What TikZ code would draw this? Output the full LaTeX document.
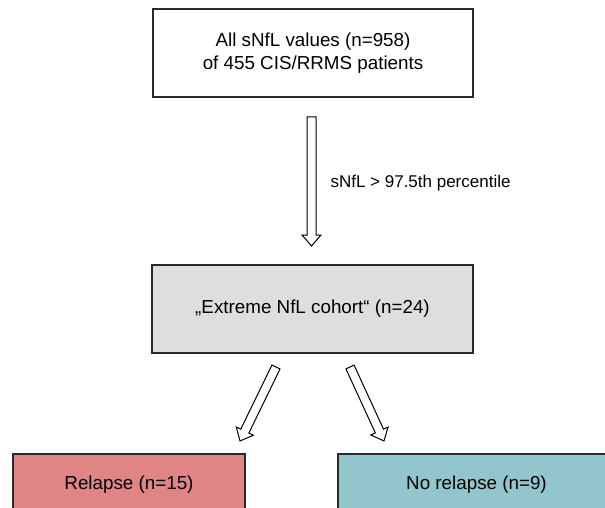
\documentclass[tikz,border=0pt]{standalone}
\usepackage{fontspec}
\setmainfont{Liberation Sans}
\usetikzlibrary{calc}
\definecolor{boxline}{HTML}{2A2A2A}
\definecolor{grayfill}{HTML}{DEDEDE}
\definecolor{redfill}{HTML}{E08585}
\definecolor{tealfill}{HTML}{93C6CC}
\tikzset{
  flowbox/.style={draw=boxline, line width=1.1pt, align=center, inner sep=0pt,
    font=\fontsize{18.8}{22.5}\selectfont},
  arrowline/.style={draw=black, line width=1pt, fill=white, line join=miter},
  lbl/.style={font=\fontsize{17}{20}\selectfont, anchor=west}
}
\newcommand\blockarrow[2]{%
  \coordinate (hb) at ($(#2)!11pt!(#1)$);
  \draw[arrowline] ($(#1)!4.5pt!90:(#2)$) -- ($(hb)!4.5pt!-90:(#1)$) -- ($(hb)!9.5pt!-90:(#1)$)
    -- (#2) -- ($(hb)!9.5pt!90:(#1)$) -- ($(hb)!4.5pt!90:(#1)$) -- ($(#1)!4.5pt!-90:(#2)$) -- cycle;
}
\begin{document}
\begin{tikzpicture}[x=1pt,y=-1pt]
\useasboundingbox (0,0) rectangle (605,508);
\clip (0,0) rectangle (605,508);
\node[flowbox, minimum width=320pt, minimum height=88pt] (all) at (313,53)
  {All sNfL values (n=958)\\of 455 CIS/RRMS patients};
\node[flowbox, fill=grayfill, minimum width=321pt, minimum height=88pt] (ext) at (312.5,309)
  {„Extreme NfL cohort“ (n=24)};
\node[flowbox, fill=redfill, minimum width=232pt, minimum height=62pt] (rel) at (129,485)
  {Relapse (n=15)};
\node[flowbox, fill=tealfill, minimum width=277pt, minimum height=62pt] (norel) at (476.5,485)
  {No relapse (n=9)};
\coordinate (v1) at (311.5,117);
\coordinate (v2) at (311.5,246);
\coordinate (l1) at (276,367);
\coordinate (l2) at (240,441);
\coordinate (r1) at (350,367);
\coordinate (r2) at (384,441);
\blockarrow{v1}{v2}
\blockarrow{l1}{l2}
\blockarrow{r1}{r2}
\node[lbl] (crit) at (327,183) {sNfL > 97.5th percentile};
\end{tikzpicture}
\end{document}
